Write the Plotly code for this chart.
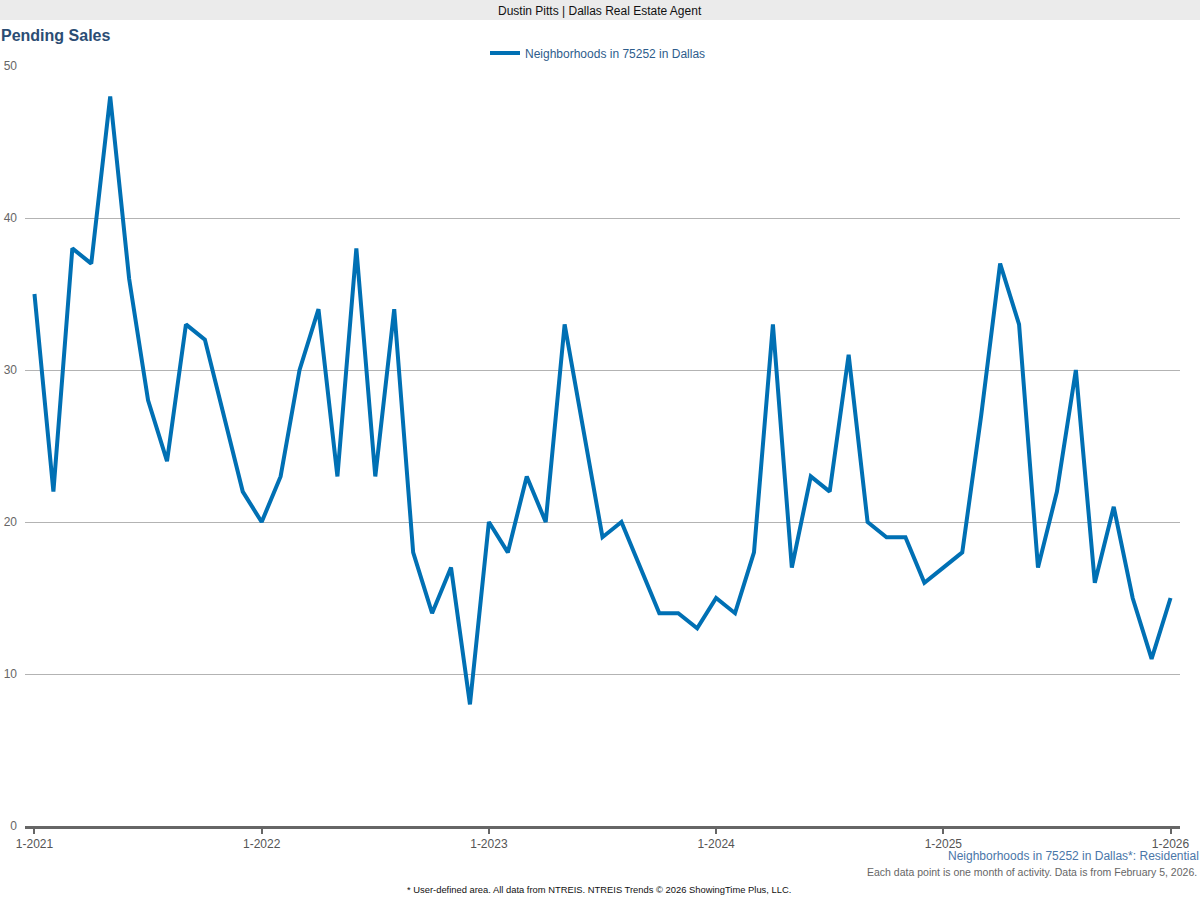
import plotly.graph_objects as go

# ---- data ----
years = [2021, 2022, 2023, 2024, 2025, 2026]
months = [f"{m}-{y}" for y in range(2021, 2027) for m in range(1, 13)][:61]
pending_sales = [
    35, 22, 38, 37, 48, 36, 28, 24, 33, 32, 27, 22,   # 2021
    20, 23, 30, 34, 23, 38, 23, 34, 18, 14, 17, 8,    # 2022
    20, 18, 23, 20, 33, 26, 19, 20, 17, 14, 14, 13,   # 2023
    15, 14, 18, 33, 17, 23, 22, 31, 20, 19, 19, 16,   # 2024
    17, 18, 27, 37, 33, 17, 22, 30, 16, 21, 15, 11,   # 2025
    15,                                               # 2026
]
tick_labels = [f"1-{y}" for y in years]
y_ticks = [0, 10, 20, 30, 40, 50]
series_name = "Neighborhoods in 75252 in Dallas"

# ---- layout geometry (pixels) ----
W, H = 1200, 900
L, R, T, B = 25, 20, 66, 74
PW, PH = W - L - R, H - T - B

def px(x):
    return (x - L) / PW

def py(y):
    return (H - B - y) / PH

FONT = "Liberation Sans, Arial, Helvetica, sans-serif"
BLUE = "#0070b4"

fig = go.Figure()
fig.add_trace(go.Scatter(
    x=months, y=pending_sales, mode="lines", name=series_name,
    line=dict(color=BLUE, width=4, shape="linear"),
    showlegend=True,
))

fig.update_layout(
    width=W, height=H,
    margin=dict(l=L, r=R, t=T, b=B, autoexpand=False),
    paper_bgcolor="white", plot_bgcolor="white",
    font=dict(family=FONT, size=12, color="#555555"),
    showlegend=True,
    legend=dict(
        orientation="h", x=px(598), xanchor="center",
        y=py(53), yanchor="middle",
        font=dict(family=FONT, size=12, color="#2e5d8c"),
        bgcolor="rgba(0,0,0,0)", itemwidth=30,
    ),
    xaxis=dict(
        type="category", range=[-0.5, 60.5], automargin=False,
        tickmode="array", tickvals=[f"1-{y}" for y in years], ticktext=tick_labels,
        showgrid=False, zeroline=False,
        showline=True, linecolor="#666666", linewidth=3,
        ticks="outside", ticklen=5, tickwidth=2, tickcolor="#666666",
        tickfont=dict(family=FONT, size=12, color="#555555"),
        fixedrange=True,
    ),
    yaxis=dict(
        range=[0, 50], tickvals=y_ticks, automargin=False,
        showgrid=True, gridcolor="#b3b3b3", gridwidth=1,
        zeroline=False, showline=False, ticks="",
        tickfont=dict(family=FONT, size=12, color="#666666"),
        ticklabelstandoff=7,
        fixedrange=True,
    ),
    shapes=[
        dict(type="rect", xref="paper", yref="paper",
             x0=px(0), x1=px(W), y0=py(20), y1=py(0),
             fillcolor="#ebebeb", line=dict(width=0), layer="below"),
    ],
    annotations=[
        dict(text="Dustin Pitts | Dallas Real Estate Agent", xref="paper", yref="paper",
             x=px(600), y=py(11), xanchor="center", yanchor="middle", showarrow=False,
             font=dict(family=FONT, size=12, color="#111111")),
        dict(text="<b>Pending Sales</b>", xref="paper", yref="paper",
             x=px(-1), y=py(35), xanchor="left", yanchor="middle", showarrow=False,
             font=dict(family=FONT, size=16, color="#2b4d74")),
        dict(text="Neighborhoods in 75252 in Dallas*: Residential", xref="paper", yref="paper",
             x=px(1201), y=py(856), xanchor="right", yanchor="middle", showarrow=False,
             font=dict(family=FONT, size=12, color="#4a76a8")),
        dict(text="Each data point is one month of activity. Data is from February 5, 2026.",
             xref="paper", yref="paper",
             x=px(1199), y=py(872), xanchor="right", yanchor="middle", showarrow=False,
             font=dict(family=FONT, size=10.5, color="#666666")),
        dict(text="* User-defined area. All data from NTREIS. NTREIS Trends © 2026 ShowingTime Plus, LLC.",
             xref="paper", yref="paper",
             x=px(599), y=py(889), xanchor="center", yanchor="middle", showarrow=False,
             font=dict(family=FONT, size=9.4, color="#111111")),
    ],
)

fig.write_html(
    "out.html",
    config={"displayModeBar": False, "staticPlot": False},
    post_script="document.body.style.margin='0';document.body.style.padding='0';",
)
